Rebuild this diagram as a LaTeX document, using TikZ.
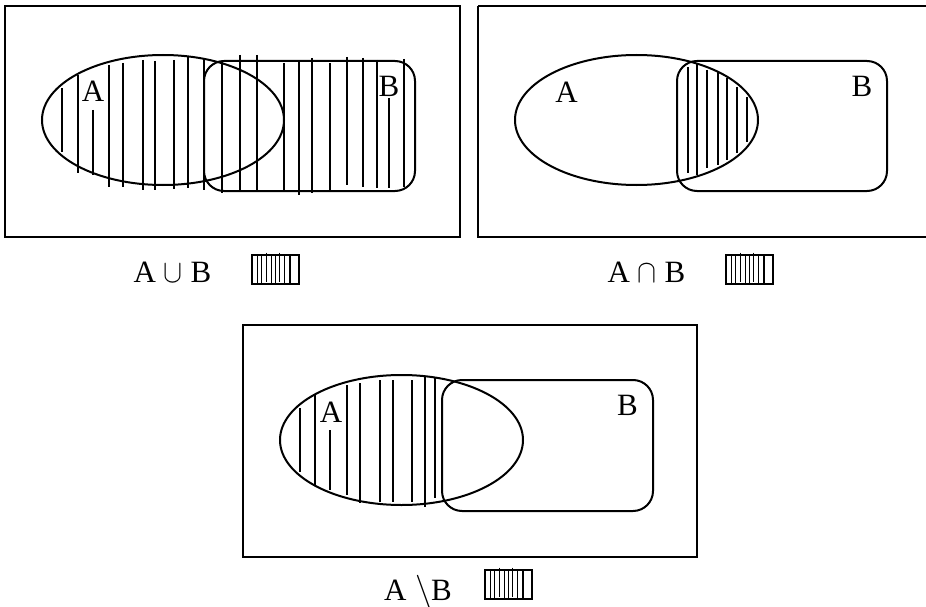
\documentclass[tikz,border=0pt]{standalone}
\usepackage{fontspec}
\setmainfont{Liberation Serif}
\begin{document}
\begin{tikzpicture}[x=1pt,y=-1pt,
  frame/.style={draw=black,line width=2.2pt},
  setline/.style={draw=black,line width=2pt},
  setb/.style={draw=black,line width=2pt,rounded corners=20pt},
  hatch/.style={draw=black,line width=2pt},
  lbl/.style={font=\fontsize{31}{32}\selectfont,inner sep=0pt,anchor=base},
  legend/.style={draw=black,line width=2pt}]
\useasboundingbox (0,0) rectangle (926,607);
\newcommand{\legendbox}[2]{%
  \draw[legend] (#1,#2) rectangle ++(47,29);
  \foreach \dx in {5.5,9.5,19.5,23.5,32.5,38}{\draw[line width=1.8pt] (#1+\dx,#2) -- (#1+\dx,#2+29);}
  \foreach \dx in {14.5,27.5}{\draw[line width=1.8pt] (#1+\dx,#2-2.5) -- (#1+\dx,#2+27);}
}
% ---------- Panel 1: union ----------
\draw[frame] (5,6) rectangle (460,237);
\draw[setline] (163,120) ellipse [x radius=121,y radius=65];
\draw[setb] (204,61) rectangle (415,191);
\foreach \x/\ya/\yb in {62/88/152,78/75/173,93/110/175,109/65/187,123/63/187,143/60/190,155/61/190,174/60/189,188/57/188,204/59/190,222/62/193,240/55/190,257/55/190,284/63/192,299/62/195,312/58/193,330/63/190,347/57/185,363/58/187,377/60/188,389/98/188,404/59/187}
  \draw[hatch] (\x,\ya) -- (\x,\yb);
\node[lbl] (a1) at (172.5,282) {A \resizebox{19pt}{18pt}{$\cup$} B};
\node[lbl] (b1) at (93,102) {A};
\node[lbl] (c1) at (389,97) {B};
\legendbox{252}{255}
% ---------- Panel 2: intersection ----------
\draw[frame] (478,6) -- (930,6) (478,6) -- (478,237) -- (930,237);
\draw[setline] (636.5,120) ellipse [x radius=121.5,y radius=65];
\draw[setb] (677,61) rectangle (887,191);
\foreach \x/\ya/\yb in {688/67/173,697/64/175,707/70/168,718/72/165,727/78/160,737/87/153,747/97/142}
  \draw[hatch] (\x,\ya) -- (\x,\yb);
\node[lbl] (a2) at (566.5,103) {A};
\node[lbl] (b2) at (862,97) {B};
\node[lbl] (c2) at (646.5,282) {A \resizebox{19pt}{18pt}{$\cap$} B};
\legendbox{726}{255}
% ---------- Panel 3: difference ----------
\draw[frame] (243,325) rectangle (697,557);
\draw[setline] (401.5,440) ellipse [x radius=121.5,y radius=65];
\draw[setb] (442,380) rectangle (653,511);
\foreach \x/\ya/\yb in {300/408/472,315/395/485,330/430/490,347/385/495,360/383/503,380/380/502,393/380/502,412/380/502,425/377/507,435/378/498}
  \draw[hatch] (\x,\ya) -- (\x,\yb);
\node[lbl] (a3) at (331,422) {A};
\node[lbl] (b3) at (627.5,415) {B};
\node[lbl] (c3) at (418,600) {A\hspace{0.3em}\scalebox{1.35}{$\backslash$}\hspace{-0.05em}B};
\legendbox{485}{570}
\end{tikzpicture}
\end{document}
